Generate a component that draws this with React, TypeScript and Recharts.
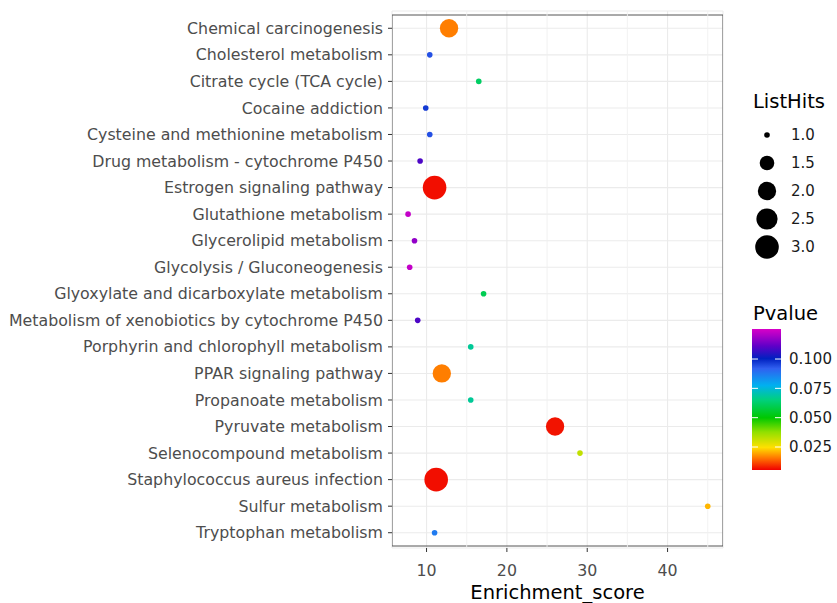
import { ScatterChart, Scatter, XAxis, YAxis, CartesianGrid, ReferenceLine, ReferenceArea } from 'recharts';

const terms = [
  'Chemical carcinogenesis',
  'Cholesterol metabolism',
  'Citrate cycle (TCA cycle)',
  'Cocaine addiction',
  'Cysteine and methionine metabolism',
  'Drug metabolism - cytochrome P450',
  'Estrogen signaling pathway',
  'Glutathione metabolism',
  'Glycerolipid metabolism',
  'Glycolysis / Gluconeogenesis',
  'Glyoxylate and dicarboxylate metabolism',
  'Metabolism of xenobiotics by cytochrome P450',
  'Porphyrin and chlorophyll metabolism',
  'PPAR signaling pathway',
  'Propanoate metabolism',
  'Pyruvate metabolism',
  'Selenocompound metabolism',
  'Staphylococcus aureus infection',
  'Sulfur metabolism',
  'Tryptophan metabolism',
];
const scores = [12.8, 10.4, 16.5, 9.9, 10.4, 9.2, 11.0, 7.7, 8.5, 7.9, 17.1, 8.9, 15.5, 11.9, 15.5, 26.0, 29.1, 11.2, 45.0, 11.0];
const listHits = [2, 1, 1, 1, 1, 1, 3, 1, 1, 1, 1, 1, 1, 2, 1, 2, 1, 3, 1, 1];
const pvalues = [0.0162, 0.094, 0.062, 0.097, 0.094, 0.109, 0.0066, 0.123, 0.117, 0.123, 0.06, 0.109, 0.068, 0.0162, 0.068, 0.007, 0.032, 0.0066, 0.021, 0.087];

const xTicks = [10, 20, 30, 40];
const xMinor = [15, 25, 35, 45];
const sizeBreaks = [1.0, 1.5, 2.0, 2.5, 3.0];
const pBreaks = [0.1, 0.075, 0.05, 0.025];

const X_MIN = 5.7;
const X_MAX = 46.9;
const P_MIN = 0.0054;
const P_MAX = 0.1256;
const palette: [number, string][] = [
  [0, '#F00000'],
  [0.08, '#FF7000'],
  [0.16, '#FFE000'],
  [0.27, '#90E000'],
  [0.37, '#00C800'],
  [0.5, '#00D080'],
  [0.6, '#00B0F0'],
  [0.72, '#3060F0'],
  [0.79, '#0020C0'],
  [0.88, '#6000C8'],
  [0.95, '#A800C8'],
  [1, '#D800C8'],
];

const data = terms.map((term, i) => ({ term, score: scores[i], hits: listHits[i], p: pvalues[i] }));

const FONT = '"DejaVu Sans", sans-serif';

function hex(c: string) {
  return [1, 3, 5].map((k) => parseInt(c.slice(k, k + 2), 16));
}

function pColor(p: number): string {
  const f = Math.min(1, Math.max(0, (p - P_MIN) / (P_MAX - P_MIN)));
  for (let i = 1; i < palette.length; i++) {
    const [f1, c1] = palette[i];
    const [f0, c0] = palette[i - 1];
    if (f <= f1) {
      const t = (f - f0) / (f1 - f0);
      const a = hex(c0);
      const b = hex(c1);
      const m = a.map((v, k) => Math.round(v + (b[k] - v) * t));
      return `rgb(${m[0]},${m[1]},${m[2]})`;
    }
  }
  return palette[palette.length - 1][1];
}

// ggplot-like area scale: 1 -> small, 3 -> big
function radius(v: number) {
  return 2.8 + 9 * Math.sqrt((v - 1) / 2);
}

// colourbar geometry
const BAR_X = 752;
const BAR_W = 29;
const BAR_TOP = 329;
const BAR_BOTTOM = 470;
function barY(p: number) {
  return BAR_BOTTOM - ((p - P_MIN) / (P_MAX - P_MIN)) * (BAR_BOTTOM - BAR_TOP);
}

function Dot(props: any) {
  const { cx, cy, payload } = props;
  if (cx == null || cy == null) return null;
  return <circle cx={cx} cy={cy} r={radius(payload.hits)} fill={pColor(payload.p)} />;
}

function Legends() {
  return (
    <svg width={837} height={603} style={{ position: 'absolute', left: 0, top: 0, pointerEvents: 'none' }}>
      <text x={753} y={108} fontSize={19.5} fontFamily={FONT} fill="#000">ListHits</text>
      {sizeBreaks.map((v, i) => {
        const y = 135 + i * 28;
        return (
          <g key={v}>
            <circle cx={767} cy={y} r={radius(v)} fill="#000" />
            <text x={791} y={y} dy="0.36em" fontSize={15} fontFamily={FONT} fill="#1A1A1A">{v.toFixed(1)}</text>
          </g>
        );
      })}
      <text x={753} y={320} fontSize={19.5} fontFamily={FONT} fill="#000">Pvalue</text>
      <defs>
        <linearGradient id="pgrad" x1="0" y1="1" x2="0" y2="0">
          {palette.map(([f, c]) => (
            <stop key={f} offset={f} stopColor={c} />
          ))}
        </linearGradient>
      </defs>
      <rect x={BAR_X} y={BAR_TOP} width={BAR_W} height={BAR_BOTTOM - BAR_TOP} fill="url(#pgrad)" />
      {pBreaks.map((p) => (
        <g key={p}>
          <line x1={BAR_X} x2={BAR_X + 6} y1={barY(p)} y2={barY(p)} stroke="#fff" strokeWidth={1} />
          <line x1={BAR_X + BAR_W - 6} x2={BAR_X + BAR_W} y1={barY(p)} y2={barY(p)} stroke="#fff" strokeWidth={1} />
          <text x={789} y={barY(p)} dy="0.36em" fontSize={15} fontFamily={FONT} fill="#1A1A1A">{p.toFixed(3)}</text>
        </g>
      ))}
    </svg>
  );
}

export default function App() {
  return (
    <div style={{ position: 'absolute', left: 0, top: 0, width: 837, height: 603, background: '#fff' }}>
      <ScatterChart width={837} height={603} margin={{ top: 11, right: 114, bottom: 0, left: 0 }}>
        <CartesianGrid stroke="#EBEBEB" strokeWidth={1.1} />
        {xMinor.map((v) => (
          <ReferenceLine key={v} x={v} stroke="#F0F0F0" strokeWidth={0.9} ifOverflow="hidden" />
        ))}
        <XAxis
          type="number"
          dataKey="score"
          domain={[X_MIN, X_MAX]}
          allowDataOverflow
          ticks={xTicks}
          height={55}
          tickSize={4}
          tickMargin={13}
          axisLine={false}
          stroke="#333333"
          tick={{ fill: '#4D4D4D', fontSize: 15.8, fontFamily: FONT }}
          label={{ value: 'Enrichment_score', position: 'insideBottom', offset: 4, fill: '#000', fontSize: 19.5, fontFamily: FONT }}
        />
        <YAxis
          type="category"
          dataKey="term"
          width={392}
          reversed
          interval={0}
          padding={{ top: 4, bottom: 2 }}
          tickSize={4}
          tickMargin={5}
          axisLine={false}
          stroke="#333333"
          tick={{ fill: '#4D4D4D', fontSize: 15.8, fontFamily: FONT }}
        />
        <Scatter data={data} shape={Dot} isAnimationActive={false} />
        <ReferenceArea x1={X_MIN} x2={X_MAX} fill="none" fillOpacity={0} stroke="#555555" strokeWidth={1} ifOverflow="hidden" />
      </ScatterChart>
      <Legends />
    </div>
  );
}
